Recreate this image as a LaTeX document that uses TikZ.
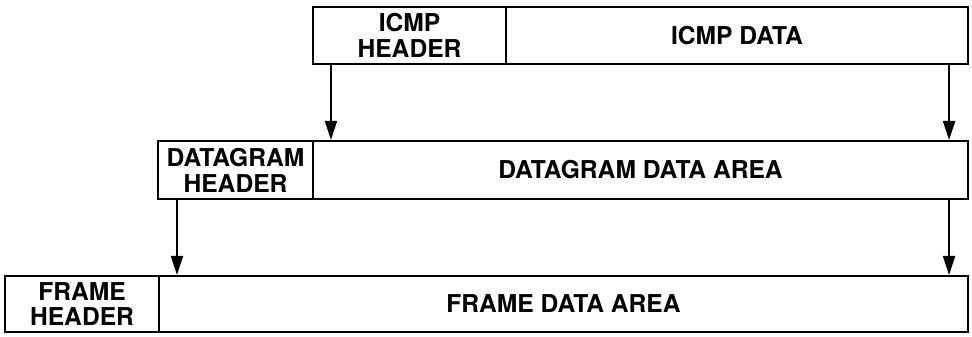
\documentclass[tikz,border=0pt]{standalone}
\usepackage{fontspec}
\setmainfont{TeX Gyre Heros}
\usetikzlibrary{arrows.meta}
\tikzset{
  field/.style={draw, line width=1.2pt, inner sep=0pt, align=center,
    font=\bfseries\fontsize{14}{14.7}\selectfont},
  down/.style={-{Triangle[length=3.8mm,width=2.4mm]}, line width=1.1pt}
}
\begin{document}
\begin{tikzpicture}[x=1cm,y=1cm]
\useasboundingbox (0,0) rectangle (19.44,6.72);
\node[field, minimum width=3.86cm, minimum height=1.14cm] (ih) at (8.19,6.01) {ICMP\\HEADER};
\node[field, minimum width=9.24cm, minimum height=1.14cm] (id) at (14.74,6.01) {ICMP DATA};
\node[field, minimum width=3.10cm, minimum height=1.16cm] (dh) at (4.71,3.32) {DATAGRAM\\HEADER};
\node[field, minimum width=13.10cm, minimum height=1.16cm] (dd) at (12.81,3.32) {DATAGRAM DATA AREA};
\node[field, minimum width=3.08cm, minimum height=1.12cm] (fh) at (1.64,0.64) {FRAME\\HEADER};
\node[field, minimum width=16.18cm, minimum height=1.12cm] (fd) at (11.27,0.64) {FRAME DATA AREA};

\draw[down] ([xshift=0.38cm]ih.south west) -- ([xshift=0.38cm]ih.south west |- dd.north);
\draw[down] ([xshift=-0.4cm]id.south east) -- ([xshift=-0.4cm]id.south east |- dd.north);
\draw[down] ([xshift=0.4cm]dh.south west) -- ([xshift=0.4cm]dh.south west |- fd.north);
\draw[down] ([xshift=-0.4cm]dd.south east) -- ([xshift=-0.4cm]dd.south east |- fd.north);
\end{tikzpicture}
\end{document}
